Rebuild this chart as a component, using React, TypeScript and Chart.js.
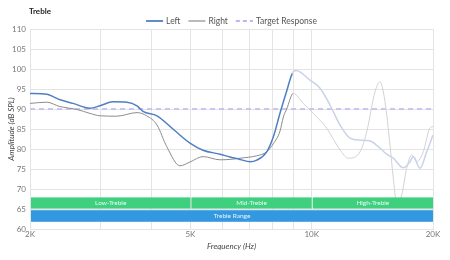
import React, { useEffect, useRef } from "react";
import { Chart, registerables } from "chart.js";

Chart.register(...registerables);

const chartTitle = "Treble";

const leftFreq = [2000, 2200, 2374, 2558, 2818, 2985, 3213, 3481, 3686, 3814, 4132, 4526, 5000, 5374, 5922, 6272, 6641, 7030, 7305, 7734, 8030, 8346, 8670, 8952, 9150, 9904, 10488, 11102, 11754, 12445, 13182, 13956, 14776, 15352, 15942, 16878, 17536, 17868, 18568, 19294, 20000];
const leftDb = [93.9, 93.7, 92.3, 91.4, 90.2, 90.8, 91.8, 91.7, 90.8, 89.4, 88.3, 85.0, 81.4, 79.7, 78.7, 78.0, 77.4, 76.8, 77.2, 79.3, 83.0, 89.0, 94.5, 98.9, 99.6, 97.2, 95.2, 91.0, 86.0, 82.7, 82.2, 82.0, 80.2, 78.7, 77.7, 75.3, 76.8, 78.1, 75.2, 79.3, 83.5];

const rightFreq = [2000, 2200, 2374, 2611, 2818, 2985, 3282, 3686, 3896, 4132, 4368, 4712, 5000, 5374, 5922, 6272, 6641, 7305, 7734, 8030, 8346, 8504, 8670, 9003, 9532, 10094, 10894, 11754, 12330, 13182, 13694, 14360, 14776, 15204, 15644, 15942, 16254, 16724, 17208, 17706, 18220, 18922, 19662, 20000];
const rightDb = [91.4, 91.7, 90.6, 89.9, 88.9, 88.3, 88.2, 89.1, 88.3, 86.0, 80.6, 75.8, 76.8, 78.1, 77.3, 77.4, 77.7, 78.3, 79.3, 81.3, 84.5, 88.0, 90.0, 93.9, 91.4, 88.9, 85.2, 79.8, 77.7, 79.3, 84.3, 94.3, 96.8, 91.8, 81.0, 72.7, 66.5, 68.5, 75.2, 78.5, 76.8, 79.3, 85.3, 85.6];

const targetFreq = [2000, 20000];
const targetDb = [90, 90];

const leftFadeFrom = 8952;
const rightFadeFrom = 9003;

const xGridValues = [2000, 3000, 4000, 5000, 6000, 7000, 8000, 9000, 10000, 20000];
const xLabelValues = [2000, 5000, 10000, 20000];
const xLabelTexts = ["2K", "5K", "10K", "20K"];

const subBandNames = ["Low-Treble", "Mid-Treble", "High-Treble"];
const subBandStart = [2000, 5000, 10000];
const subBandEnd = [5000, 10000, 20000];
const subBandDb = [65.1, 67.9];

const rangeNames = ["Treble Range"];
const rangeStart = [2000];
const rangeEnd = [20000];
const rangeDb = [61.8, 64.7];

const FONT = "Lato, 'DejaVu Sans', sans-serif";

const BLUE = "#4f7fc3";
const BLUE_FADED = "#c9d3e8";
const GRAY = "#8c8c8c";
const GRAY_FADED = "#d2d2d2";
const TARGET = "#b9b9f2";

const toPoints = (xs: number[], ys: number[]) => xs.map((x, i) => ({ x, y: ys[i] }));

const overlayPlugin = {
  id: "overlay",
  afterDatasetsDraw(chart: any) {
    const { ctx, scales } = chart;
    const xs = scales.x;
    const ys = scales.y;
    ctx.save();
    ctx.textAlign = "center";
    ctx.textBaseline = "middle";
    ctx.font = `6.5px ${FONT}`;
    const gTop = ys.getPixelForValue(subBandDb[1]);
    const gBot = ys.getPixelForValue(subBandDb[0]);
    subBandNames.forEach((name, i) => {
      const x0 = xs.getPixelForValue(subBandStart[i]) + 1;
      const x1 = xs.getPixelForValue(subBandEnd[i]);
      ctx.fillStyle = "#3ecf7f";
      ctx.fillRect(x0, gTop, x1 - x0, gBot - gTop);
      ctx.fillStyle = "rgba(255,255,255,0.9)";
      ctx.fillText(name, (x0 + x1) / 2, (gTop + gBot) / 2);
    });
    const bTop = ys.getPixelForValue(rangeDb[1]);
    const bBot = ys.getPixelForValue(rangeDb[0]);
    rangeNames.forEach((name, i) => {
      const x0 = xs.getPixelForValue(rangeStart[i]) + 1;
      const x1 = xs.getPixelForValue(rangeEnd[i]);
      ctx.fillStyle = "#3398e0";
      ctx.fillRect(x0, bTop, x1 - x0, bBot - bTop);
      ctx.fillStyle = "rgba(255,255,255,0.9)";
      ctx.fillText(name, (x0 + x1) / 2, (bTop + bBot) / 2);
    });
    ctx.restore();
  },
  afterDraw(chart: any) {
    const { ctx, chartArea } = chart;
    ctx.save();
    ctx.font = `bold 8px ${FONT}`;
    ctx.fillStyle = "#222";
    ctx.textAlign = "left";
    ctx.textBaseline = "middle";
    ctx.fillText(chartTitle, chartArea.left - 1, 11);

    // legend
    ctx.font = `8.5px ${FONT}`;
    const items = chart.data.datasets.map((ds: any) => ({
      text: ds.label,
      color: ds.borderColor,
      dash: ds.borderDash || [],
      width: ds.label === "Right" ? 1.2 : 1.8,
    }));
    const lineW = 17;
    const gapLT = 3;
    const gapItems = 8;
    let total = 0;
    items.forEach((it: any, i: number) => {
      total += lineW + gapLT + ctx.measureText(it.text).width + (i < items.length - 1 ? gapItems : 0);
    });
    let x = (chartArea.left + chartArea.right) / 2 - total / 2;
    const y = 21;
    items.forEach((it: any) => {
      ctx.strokeStyle = it.color;
      ctx.lineWidth = it.width;
      ctx.setLineDash(it.dash.length ? [4, 3] : []);
      ctx.beginPath();
      ctx.moveTo(x, y);
      ctx.lineTo(x + lineW, y);
      ctx.stroke();
      ctx.setLineDash([]);
      x += lineW + gapLT;
      ctx.fillStyle = "#555";
      ctx.fillText(it.text, x, y);
      x += ctx.measureText(it.text).width + gapItems;
    });
    ctx.restore();
  },
};

export default function App() {
  const canvasRef = useRef<HTMLCanvasElement | null>(null);

  useEffect(() => {
    document.body.style.margin = "0";
    const canvas = canvasRef.current;
    if (!canvas) return;
    const chart = new Chart(canvas, {
      type: "line",
      data: {
        datasets: [
          {
            label: "Left",
            data: toPoints(leftFreq, leftDb),
            borderColor: BLUE,
            backgroundColor: BLUE,
            borderWidth: 1.5,
            pointRadius: 0,
            tension: 0.4,
            cubicInterpolationMode: "monotone",
            segment: {
              borderColor: (c: any) => (c.p0.parsed.x >= leftFadeFrom ? BLUE_FADED : BLUE),
            },
            order: 1,
          },
          {
            label: "Right",
            data: toPoints(rightFreq, rightDb),
            borderColor: GRAY,
            backgroundColor: GRAY,
            borderWidth: 1,
            pointRadius: 0,
            tension: 0.4,
            cubicInterpolationMode: "monotone",
            segment: {
              borderColor: (c: any) => (c.p0.parsed.x >= rightFadeFrom ? GRAY_FADED : GRAY),
            },
            order: 2,
          },
          {
            label: "Target Response",
            data: toPoints(targetFreq, targetDb),
            borderColor: TARGET,
            backgroundColor: TARGET,
            borderWidth: 1.5,
            borderDash: [5, 4],
            pointRadius: 0,
            order: 3,
          },
        ],
      },
      options: {
        animation: false,
        responsive: false,
        maintainAspectRatio: false,
        layout: { padding: { top: 29, right: 17, left: 0, bottom: 9 } },
        plugins: {
          title: { display: false },
          tooltip: { enabled: false },
          legend: { display: false },
        },
        scales: {
          x: {
            type: "logarithmic",
            min: 2000,
            max: 20000,
            afterBuildTicks: (scale: any) => {
              scale.ticks = xGridValues.map((v) => ({ value: v }));
            },
            afterFit: (scale: any) => {
              scale.height = 22;
            },
            ticks: {
              autoSkip: false,
              maxRotation: 0,
              color: "#777",
              font: { family: FONT, size: 8 },
              padding: 1,
              callback: (v: any) => {
                const idx = xLabelValues.indexOf(Number(v));
                return idx >= 0 ? xLabelTexts[idx] : "";
              },
            },
            grid: { color: "#e4e4e4", drawTicks: false, lineWidth: 1 },
            border: { color: "#e4e4e4" },
            title: {
              display: true,
              text: "Frequency (Hz)",
              color: "#444",
              font: { family: FONT, size: 8, style: "italic" },
              padding: { top: 2, bottom: 0 },
            },
          },
          y: {
            type: "linear",
            min: 60,
            max: 110,
            afterFit: (scale: any) => {
              scale.width = 30;
            },
            ticks: {
              stepSize: 5,
              color: "#777",
              font: { family: FONT, size: 8 },
              padding: 4,
            },
            grid: { color: "#e4e4e4", drawTicks: false },
            border: { color: "#e4e4e4" },
            title: {
              display: true,
              text: "Amplitude (dB SPL)",
              color: "#444",
              font: { family: FONT, size: 8, style: "italic" },
              padding: { top: 7, bottom: 1 },
            },
          },
        },
      },
      plugins: [overlayPlugin],
    } as any);
    return () => chart.destroy();
  }, []);

  return (
    <div style={{ position: "fixed", left: 0, top: 0, width: 450, height: 260 }}>
      <canvas ref={canvasRef} width={450} height={260} style={{ width: 450, height: 260 }} />
    </div>
  );
}
